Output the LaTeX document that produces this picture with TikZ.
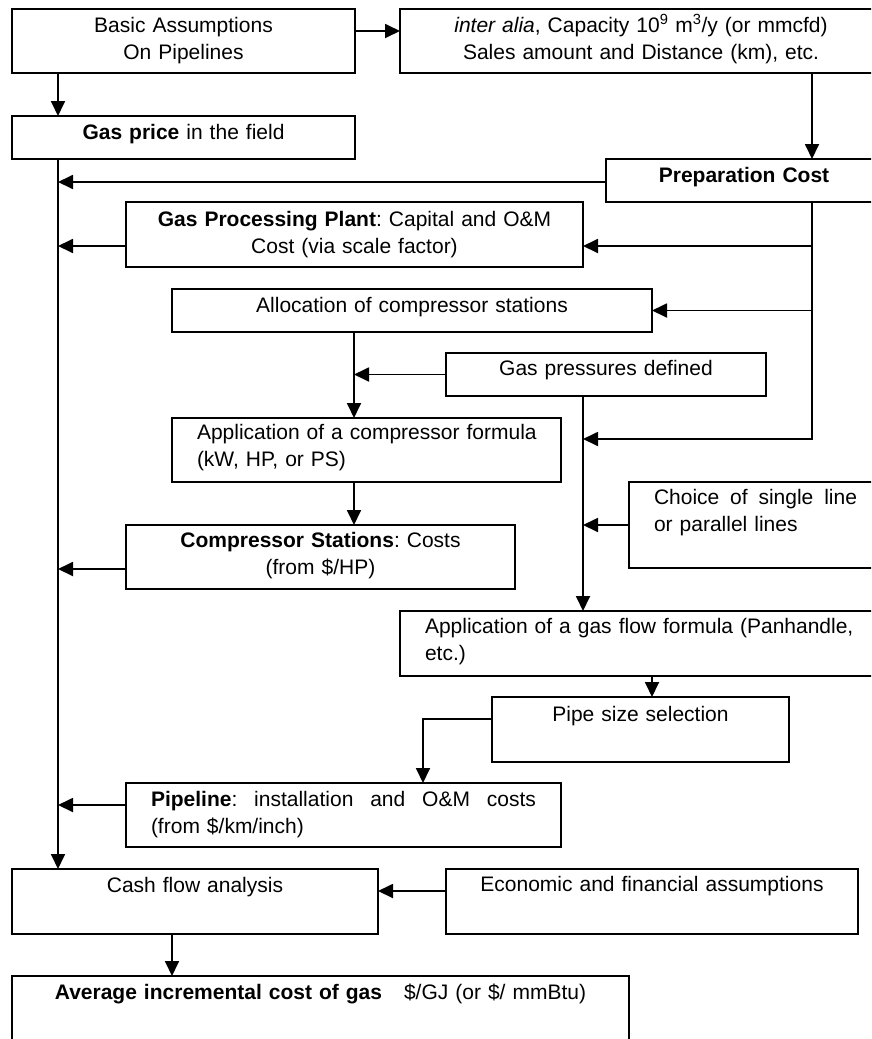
\documentclass[tikz,border=0pt]{standalone}
\usepackage{fontspec}
\setmainfont{Liberation Sans}
\usetikzlibrary{arrows.meta}
\frenchspacing
\begin{document}
\begin{tikzpicture}[x=1pt,y=-1pt,
	box/.style={draw,line width=1.8pt,anchor=north west,inner xsep=0pt,inner ysep=0pt,outer sep=0pt,align=center,font=\fontsize{21}{27}\selectfont},
	padbox/.style={box,inner xsep=25pt,align=left},
	arr/.style={line width=1.8pt,-{Triangle[length=15pt,width=14pt]}}]
	\useasboundingbox (0,0) rectangle (871,1039);
	\clip (0,0) rectangle (871,1039);
	\coordinate (lbus) at (58,0);
	\coordinate (rbus) at (812,0);
	\coordinate (cbus) at (354,0);
	\coordinate (gbus) at (583,0);
	\coordinate (jct) at (583,439);

	\node[box,text width=343pt,text height=23pt,text depth=41pt] (basic) at (12,9) {Basic Assumptions\\On Pipelines};
	\node[box,text width=482pt,text height=23pt,text depth=41pt] (inputs) at (400,9) {\textit{inter alia}, Capacity 10\textsuperscript{9} m\textsuperscript{3}/y (or mmcfd)\\Sales amount and Distance (km), etc.};
	\node[box,text width=343pt,text height=23pt,text depth=20pt] (price) at (12,116) {\textbf{Gas price} in the field};
	\node[box,text width=276pt,text height=23pt,text depth=20pt] (prep) at (606,159) {\textbf{Preparation Cost}};
	\node[box,text width=457pt,text height=24pt,text depth=41pt] (gpp) at (126,202) {\textbf{Gas Processing Plant}: Capital and O\&M\\Cost (via scale factor)};
	\node[box,text width=480pt,text height=23pt,text depth=20pt] (alloc) at (172,289) {Allocation of compressor stations};
	\node[box,text width=320pt,text height=22pt,text depth=21pt] (press) at (446,353) {Gas pressures defined};
	\node[padbox,text width=339pt,text height=21pt,text depth=43pt] (cform) at (172,418) {\mbox{Application of a compressor formula}\\(kW, HP, or PS)};
	\node[box,text width=389pt,text height=22pt,text depth=42pt] (cstat) at (126,525) {\textbf{Compressor Stations}: Costs\\(from \$/HP)};
	\node[padbox,text width=203pt,text height=22pt,text depth=64pt] (choice) at (629,482) {\hbox to 203pt{Choice\hfill of\hfill single\hfill line}\\or parallel lines};
	\node[padbox,text width=440pt,text height=22pt,text depth=43pt] (gflow) at (400,611) {\mbox{Application of a gas flow formula (Panhandle,}\\etc.)};
	\node[box,text width=297pt,text height=24pt,text depth=41pt] (pipe) at (492,697) {Pipe size selection};
	\node[padbox,text width=385pt,text height=23pt,text depth=41pt] (pline) at (126,783) {\hbox to 385pt{\textbf{Pipeline}:\hfill installation\hfill and\hfill O\&M\hfill costs}\\(from \$/km/inch)};
	\node[box,text width=366pt,text height=23pt,text depth=42pt] (cash) at (12,869) {Cash flow analysis};
	\node[box,text width=412pt,text height=22pt,text depth=43pt] (econ) at (446,869) {Economic and financial assumptions};
	\node[box,text width=617pt,text height=23pt,text depth=71pt] (avg) at (12,976) {\textbf{Average incremental cost of gas}\hspace{22pt}\$/GJ (or \$/ mmBtu)};

	\draw[arr] ([yshift=10pt]basic.east) -- ([yshift=10pt]basic.east -| inputs.west);
	\draw[arr] (basic.south -| lbus) -- (price.north -| lbus);
	\draw[arr] (inputs.south -| rbus) -- (prep.north -| rbus);
	\draw[arr] (price.south -| lbus) -- (cash.north -| lbus);
	\draw[arr] ([yshift=-1.5pt]prep.west) -- ([yshift=-1.5pt]prep.west -| lbus);
	\draw[arr] (prep.south -| rbus) |- (jct);
	\draw[arr] ([yshift=-11.5pt]gpp.east -| rbus) -- ([yshift=-11.5pt]gpp.east);
	\draw[arr] ([yshift=-11.5pt]gpp.west) -- ([yshift=-11.5pt]gpp.west -| lbus);
	\draw[arr] (alloc.east -| rbus) -- (alloc.east);
	\draw[arr] (alloc.south -| cbus) -- (cform.north -| cbus);
	\draw[arr] (press.west) -- (press.west -| cbus);
	\draw[arr] (cform.south -| cbus) -- (cstat.north -| cbus);
	\draw[arr] ([yshift=-12pt]cstat.west) -- ([yshift=-12pt]cstat.west -| lbus);
	\draw[arr] (press.south -| gbus) -- (gflow.north -| gbus);
	\draw[arr] (choice.west) -- (choice.west -| gbus);
	\draw[arr] ([xshift=11.5pt]pipe.north |- gflow.south) -- ([xshift=11.5pt]pipe.north);
	\draw[arr] ([yshift=10.5pt]pipe.west) -| ([xshift=79.5pt]pline.north);
	\draw[arr] ([yshift=10pt]pline.west) -- ([yshift=10pt]pline.west -| lbus);
	\draw[arr] ([yshift=10.5pt]econ.west) -- ([yshift=10.5pt]econ.west -| cash.east);
	\draw[arr] ([xshift=-23pt]cash.south) -- ([xshift=-23pt]cash.south |- avg.north);
\end{tikzpicture}
\end{document}
